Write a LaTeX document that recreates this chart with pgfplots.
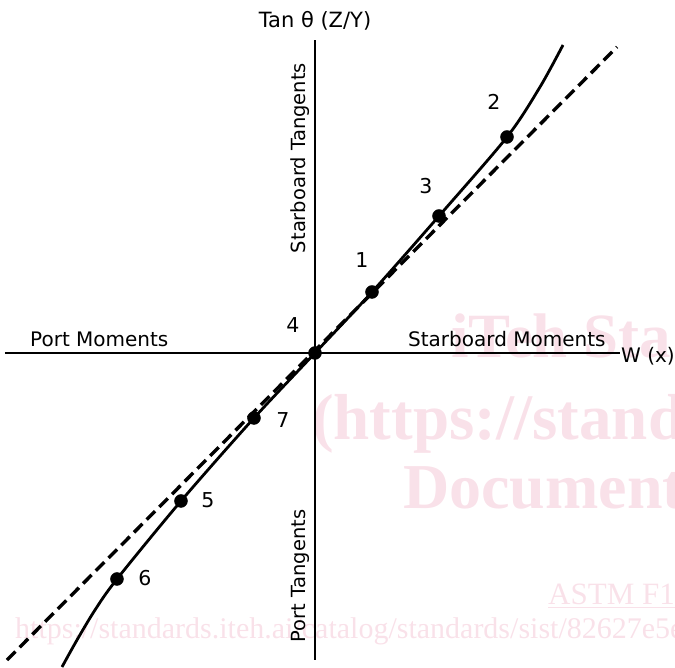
\documentclass[border=0pt]{standalone}
\usepackage{pgfplots}
\pgfplotsset{compat=1.18}
\usepackage{fontspec}
\setmainfont{DejaVu Sans}
\newfontfamily\wmfont{Liberation Serif}
\definecolor{wm}{RGB}{249,225,233}
\begin{document}
\begin{tikzpicture}
\begin{axis}[
  x=1pt, y=1pt,
  axis lines=none,
  xmin=-315, xmax=360, ymin=-315, ymax=353,
  clip=false,
  anchor=origin, at={(0,0)},
]
% watermark
\node[wm, font=\wmfont\bfseries\fontsize{63}{63}\selectfont, anchor=base west, inner sep=0] at (axis cs:136,-5) {iTeh Sta};
\node[wm, font=\wmfont\bfseries\fontsize{65}{65}\selectfont, anchor=base west, inner sep=0] at (axis cs:-3,-87) {(https://standards.iteh.ai)};
\node[wm, font=\wmfont\bfseries\fontsize{64}{64}\selectfont, anchor=base west, inner sep=0] at (axis cs:88,-156) {Document Preview};
\node[wm, font=\wmfont\fontsize{31}{31}\selectfont, anchor=base west, inner sep=0] at (axis cs:233,-252) {\underline{ASTM F1}};
\node[wm, font=\wmfont\fontsize{30}{30}\selectfont, anchor=base west, inner sep=0] at (axis cs:-300,-286) {https://standards.iteh.ai/catalog/standards/sist/82627e5e};
% axes
\addplot[black, line width=1.6pt] coordinates {(-310,0) (305,0)};
\addplot[black, line width=1.6pt] coordinates {(0,-307) (0,313)};
% dashed reference line
\addplot[black, line width=3.4pt, dash pattern=on 12pt off 6pt] coordinates {(-308,-307) (302,306)};
% curve
\addplot[black, line width=2.8pt, smooth, tension=0.5] coordinates {
 (-253,-314) (-238,-287) (-220,-257) (-198,-226) (-134,-148) (-61,-65) (0,0)
 (57,61) (124,137) (192,216) (225,266) (248,308)};
% points
\addplot[only marks, mark=*, mark size=6.5pt, black] coordinates {
 (-198,-226) (-134,-148) (-61,-65) (0,0) (57,61) (124,137) (192,216)};
% point labels
\node[font=\fontsize{20.5}{21}\selectfont] at (axis cs:47,93) {1};
\node[font=\fontsize{20.5}{21}\selectfont] at (axis cs:179,251) {2};
\node[font=\fontsize{20.5}{21}\selectfont] at (axis cs:111,167) {3};
\node[font=\fontsize{20.5}{21}\selectfont] at (axis cs:-22,28) {4};
\node[font=\fontsize{20.5}{21}\selectfont] at (axis cs:-107,-147) {5};
\node[font=\fontsize{20.5}{21}\selectfont] at (axis cs:-170,-225) {6};
\node[font=\fontsize{20.5}{21}\selectfont] at (axis cs:-32,-67) {7};
% axis texts
\node[font=\fontsize{21}{21}\selectfont, anchor=base, inner sep=0] at (axis cs:0,325) {Tan θ (Z/Y)};
\node[font=\fontsize{20}{20}\selectfont, anchor=base west, inner sep=0] at (axis cs:306,-10) {W (x)};
\node[font=\fontsize{20}{20}\selectfont, anchor=base west, inner sep=0] at (axis cs:-285,6) {Port Moments};
\node[font=\fontsize{20}{20}\selectfont, anchor=base west, inner sep=0] at (axis cs:93,6) {Starboard Moments};
\node[font=\fontsize{19.5}{20}\selectfont, anchor=base, rotate=90, inner sep=0] at (axis cs:-9,195) {Starboard Tangents};
\node[font=\fontsize{19.5}{20}\selectfont, anchor=base, rotate=90, inner sep=0] at (axis cs:-9,-223) {Port Tangents};
\coordinate (bl) at (axis cs:-315,-315);
\coordinate (tr) at (axis cs:360,353);
\end{axis}
\pgfresetboundingbox
\useasboundingbox (bl) rectangle (tr);
\end{tikzpicture}
\end{document}
